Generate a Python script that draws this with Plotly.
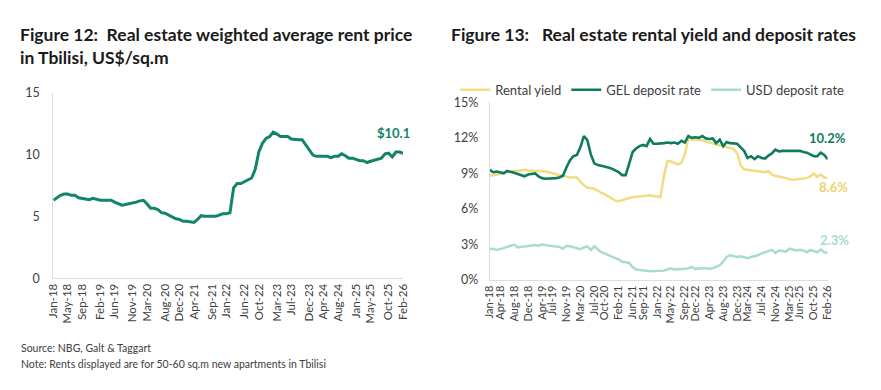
import plotly.graph_objects as go
import pandas as pd

months = pd.date_range("2018-01-01", "2026-02-01", freq="MS").strftime("%b-%y").tolist()

rent_price = [6.3, 6.5, 6.7, 6.8, 6.8, 6.7, 6.7, 6.5, 6.45, 6.4, 6.35, 6.45, 6.35, 6.3, 6.3, 6.3, 6.3, 6.15, 6.0, 5.9,
              5.95, 6.0, 6.05, 6.15, 6.25, 6.3, 6.0, 5.65, 5.65, 5.55, 5.3, 5.25, 5.1, 4.95, 4.8, 4.75, 4.6, 4.6, 4.55, 4.5,
              4.75, 5.05, 5.0, 5.0, 5.0, 5.0, 5.1, 5.2, 5.2, 5.3, 7.3, 7.65, 7.65, 7.8, 7.95, 8.1, 8.8, 10.2, 10.9, 11.3,
              11.45, 11.8, 11.65, 11.45, 11.45, 11.45, 11.25, 11.2, 11.2, 11.2, 10.8, 10.45, 9.95, 9.85, 9.85, 9.85, 9.85, 9.75, 9.85, 9.85,
              10.05, 9.9, 9.7, 9.7, 9.6, 9.5, 9.5, 9.35, 9.45, 9.55, 9.6, 9.7, 10.05, 10.1, 9.8, 10.2, 10.2, 10.1]

rental_yield = [8.8, 8.85, 8.9, 8.95, 9.1, 9.15, 9.15, 9.2, 9.2, 9.25, 9.3, 9.25, 9.2, 9.2, 9.2, 9.2, 9.15, 9.1, 9.0, 8.95,
                8.85, 8.8, 8.7, 8.65, 8.65, 8.65, 8.3, 8.0, 7.8, 7.75, 7.7, 7.55, 7.35, 7.25, 7.05, 6.9, 6.7, 6.65, 6.75, 6.85,
                6.95, 7.0, 7.0, 7.05, 7.05, 7.1, 7.15, 7.1, 7.05, 7.0, 8.8, 10.05, 10.0, 9.85, 9.75, 9.9, 10.6, 11.95, 11.85, 11.85,
                11.85, 11.8, 11.7, 11.6, 11.5, 11.4, 11.35, 11.3, 11.2, 11.15, 11.05, 10.7, 9.7, 9.35, 9.3, 9.25, 9.2, 9.15, 9.1, 9.1,
                9.2, 8.9, 8.8, 8.75, 8.7, 8.6, 8.5, 8.45, 8.5, 8.55, 8.6, 8.6, 8.75, 9.0, 8.7, 8.9, 8.65, 8.6]

gel_rate = [9.3, 9.1, 9.15, 9.1, 9.0, 9.2, 9.15, 9.05, 8.95, 8.85, 8.75, 8.9, 8.95, 9.0, 8.75, 8.6, 8.55, 8.55, 8.55, 8.6,
            8.65, 8.8, 9.5, 10.1, 10.45, 10.55, 11.2, 12.15, 11.8, 10.6, 9.85, 9.7, 9.65, 9.6, 9.5, 9.4, 9.25, 9.1, 8.85, 8.85,
            9.8, 10.8, 11.1, 11.3, 11.4, 11.3, 11.9, 11.5, 11.5, 11.5, 11.55, 11.6, 11.55, 11.6, 11.5, 11.75, 11.6, 12.15, 12.0, 12.05,
            12.0, 12.15, 11.95, 11.9, 11.95, 11.55, 11.85, 11.3, 11.65, 11.55, 11.55, 11.5, 11.2, 10.9, 10.3, 10.45, 10.2, 10.45, 10.3, 10.25,
            10.5, 10.7, 11.0, 10.85, 10.9, 10.9, 10.95, 10.95, 10.9, 10.9, 10.8, 10.75, 10.6, 10.45, 10.45, 10.75, 10.55, 10.2]

usd_rate = [2.6, 2.65, 2.55, 2.6, 2.7, 2.8, 2.9, 3.0, 2.75, 2.8, 2.85, 2.85, 2.9, 2.95, 2.9, 3.0, 2.95, 2.9, 2.9, 2.85,
            2.8, 2.65, 2.9, 2.85, 2.75, 2.7, 2.6, 2.75, 2.85, 2.55, 2.85, 2.6, 2.35, 2.25, 2.1, 1.95, 1.85, 1.75, 1.55, 1.5,
            1.45, 1.1, 0.9, 0.85, 0.85, 0.8, 0.75, 0.75, 0.75, 0.75, 0.8, 0.9, 1.0, 0.9, 0.9, 0.9, 0.95, 1.0, 1.1, 0.95,
            1.0, 1.0, 1.0, 0.95, 1.0, 1.1, 1.25, 1.55, 1.95, 2.1, 2.05, 1.95, 2.0, 1.95, 1.85, 1.95, 2.0, 2.1, 2.25, 2.35,
            2.45, 2.55, 2.3, 2.5, 2.45, 2.4, 2.65, 2.55, 2.5, 2.55, 2.5, 2.35, 2.55, 2.45, 2.35, 2.6, 2.35, 2.3]

left_ticks = ["Jan-18", "May-18", "Sep-18", "Feb-19", "Jun-19", "Nov-19", "Mar-20", "Aug-20", "Dec-20", "Apr-21",
              "Sep-21", "Jan-22", "Jun-22", "Oct-22", "Mar-23", "Jul-23", "Dec-23", "Apr-24", "Aug-24", "Jan-25",
              "May-25", "Oct-25", "Feb-26"]
right_ticks = ["Jan-18", "Apr-18", "Aug-18", "Dec-18", "Apr-19", "Jul-19", "Nov-19", "Mar-20", "Jul-20", "Oct-20",
               "Feb-21", "Jun-21", "Sep-21", "Jan-22", "May-22", "Sep-22", "Dec-22", "Apr-23", "Aug-23", "Dec-23",
               "Mar-24", "Jul-24", "Nov-24", "Mar-25", "Jun-25", "Oct-25", "Feb-26"]
left_yticks = [0, 5, 10, 15]
right_yticks = [0, 3, 6, 9, 12, 15]

C_DARK = "#13846a"
C_GEL = "#0f7a5f"
C_YEL = "#f1dc80"
C_USD = "#a9dccc"
FONT = "Lato"
W, H = 881, 390

fig = go.Figure()
fig.add_trace(go.Scatter(x=months, y=rent_price, mode="lines", line=dict(color=C_DARK, width=3),
                         xaxis="x", yaxis="y", showlegend=False))
fig.add_trace(go.Scatter(x=months, y=rental_yield, mode="lines", line=dict(color=C_YEL, width=2.5),
                         name="Rental yield", xaxis="x2", yaxis="y2"))
fig.add_trace(go.Scatter(x=months, y=gel_rate, mode="lines", line=dict(color=C_GEL, width=2.6),
                         name="GEL deposit rate", xaxis="x2", yaxis="y2"))
fig.add_trace(go.Scatter(x=months, y=usd_rate, mode="lines", line=dict(color=C_USD, width=2.5),
                         name="USD deposit rate", xaxis="x2", yaxis="y2"))

base_axis = dict(showgrid=False, zeroline=False, showline=True, linecolor="#dcdcdc", linewidth=1, fixedrange=True)
xtick_font = dict(family=FONT, size=11.5, color="#404040")
ytick_font = dict(family=FONT, size=12.5, color="#404040")

fig.update_layout(
    width=W, height=H, margin=dict(l=0, r=0, t=0, b=0),
    paper_bgcolor="white", plot_bgcolor="white",
    font=dict(family=FONT, color="#333333"),
    xaxis=dict(domain=[47 / W, 402 / W], type="category", categoryorder="array", categoryarray=months,
               range=[0, len(months) - 1], tickmode="array", tickvals=left_ticks, ticktext=left_ticks,
               tickangle=-90, ticks="", anchor="y", tickfont=xtick_font, **base_axis),
    yaxis=dict(domain=[(H - 281) / H, (H - 88) / H], range=[0, 15], tickvals=left_yticks, ticks="",
               ticklabelstandoff=10, anchor="x", tickfont=ytick_font, **base_axis),
    xaxis2=dict(domain=[490 / W, 833 / W], type="category", categoryorder="array", categoryarray=months,
                range=[0, len(months) - 1], tickmode="array", tickvals=right_ticks, ticktext=right_ticks,
                tickangle=-90, ticks="", anchor="y2", tickfont=dict(xtick_font, size=11), **base_axis),
    yaxis2=dict(domain=[(H - 283) / H, (H - 98) / H], range=[0, 15], tickvals=right_yticks,
                ticktext=[f"{v}%" for v in right_yticks], ticks="", ticklabelstandoff=8, anchor="x2",
                tickfont=ytick_font, **base_axis),
    legend=dict(orientation="h", x=455 / W, y=(H - 85) / H, xanchor="left", yanchor="middle",
                font=dict(family=FONT, size=13, color="#404040"), bgcolor="rgba(0,0,0,0)",
                tracegroupgap=0),
    showlegend=True,
)

ann = []
ann.append(dict(text="<b>Figure 12:  Real estate weighted average rent price<br>in Tbilisi, US$/sq.m</b>",
                x=11 / W, y=(H - 15) / H, xref="paper", yref="paper", xanchor="left", yanchor="top",
                align="left", showarrow=False, font=dict(family=FONT, size=17.5, color="#1a1a1a")))
ann.append(dict(text="<b>Figure 13:   Real estate rental yield and deposit rates</b>",
                x=449 / W, y=(H - 15) / H, xref="paper", yref="paper", xanchor="left", yanchor="top",
                align="left", showarrow=False, font=dict(family=FONT, size=17.5, color="#1a1a1a")))
ann.append(dict(text="Source: NBG, Galt & Taggart", x=12 / W, y=(H - 354) / H, xref="paper", yref="paper",
                xanchor="left", yanchor="middle", showarrow=False, font=dict(family=FONT, size=10.5, color="#404040")))
ann.append(dict(text="Note: Rents displayed are for 50-60 sq.m new apartments in Tbilisi", x=12 / W, y=(H - 370) / H,
                xref="paper", yref="paper", xanchor="left", yanchor="middle", showarrow=False,
                font=dict(family=FONT, size=10.5, color="#404040")))
# end-value labels
ann.append(dict(text=f"<b>${rent_price[-1]:.1f}</b>", x=months[-1], y=rent_price[-1], xref="x", yref="y",
                xanchor="center", yanchor="bottom", xshift=-10, yshift=10, showarrow=False,
                font=dict(family=FONT, size=13, color=C_DARK)))
ann.append(dict(text=f"<b>{gel_rate[-1]:.1f}%</b>", x=months[-1], y=gel_rate[-1], xref="x2", yref="y2",
                xanchor="center", yanchor="bottom", yshift=11, showarrow=False,
                font=dict(family=FONT, size=13, color=C_GEL)))
ann.append(dict(text=f"<b>{rental_yield[-1]:.1f}%</b>", x=months[-1], y=rental_yield[-1], xref="x2", yref="y2",
                xanchor="center", yanchor="top", yshift=1, xshift=6, showarrow=False,
                font=dict(family=FONT, size=13, color="#ecd46a")))
ann.append(dict(text=f"<b>{usd_rate[-1]:.1f}%</b>", x=months[-1], y=usd_rate[-1], xref="x2", yref="y2",
                xanchor="center", yanchor="bottom", yshift=3, xshift=7, showarrow=False,
                font=dict(family=FONT, size=13, color=C_USD)))
fig.update_layout(annotations=ann)

fig.write_html("out.html", config={"displayModeBar": False},
               post_script="document.body.style.margin='0';")
